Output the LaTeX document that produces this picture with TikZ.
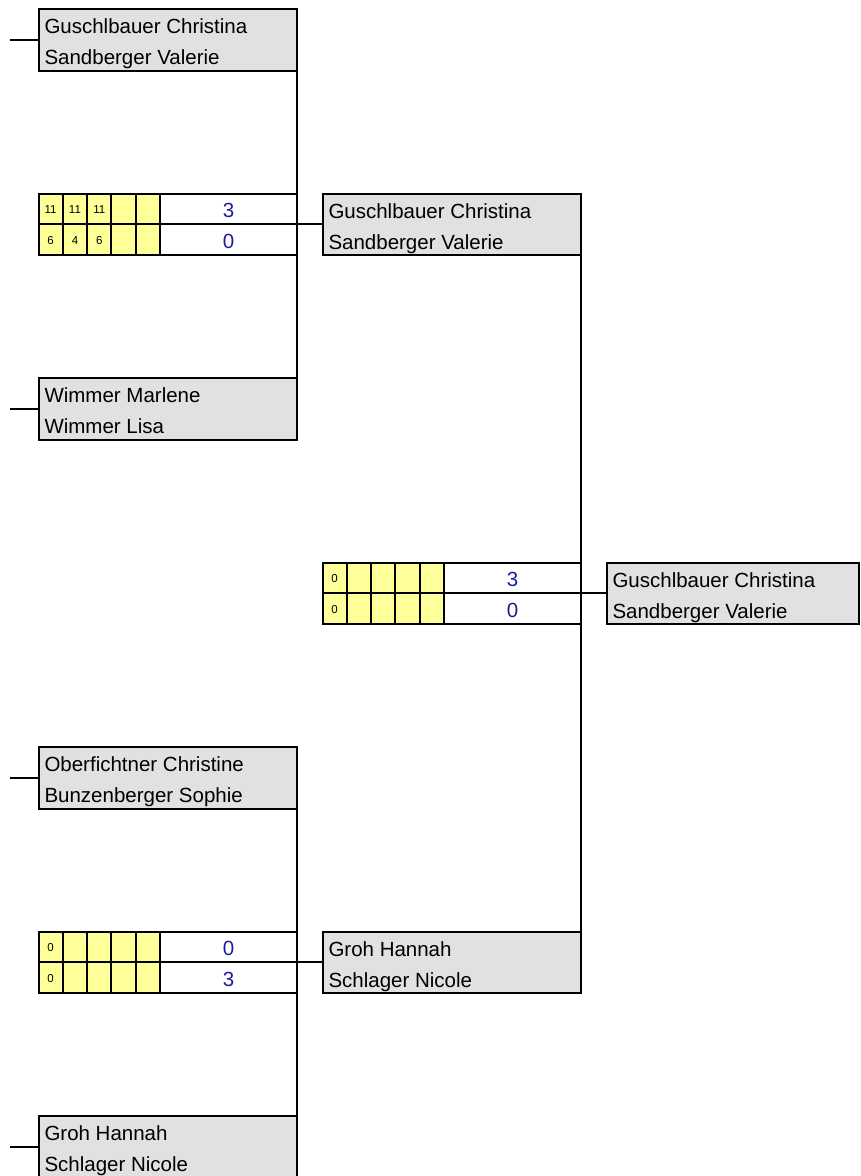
\documentclass[tikz,border=0pt]{standalone}
\usepackage{fontspec}
\setmainfont{Liberation Sans}
\definecolor{boxgray}{HTML}{E1E1E1}
\definecolor{setyellow}{HTML}{FFFF99}
\definecolor{scoreblue}{HTML}{1C1CA0}
\tikzset{
  namebox/.style={draw, fill=boxgray, anchor=north west, minimum width=258.5pt, minimum height=61.5pt, inner sep=0pt, outer sep=0pt},
  scorebox/.style={draw, fill=white, anchor=north west, minimum width=258.5pt, minimum height=61.5pt, inner sep=0pt, outer sep=0pt},
  playername/.style={anchor=base west, inner sep=0pt, font=\fontsize{20.5}{24}\selectfont},
  setpoints/.style={anchor=base, inner sep=0pt, font=\fontsize{11.5}{13}\selectfont},
  setscore/.style={anchor=base, inner sep=0pt, text=scoreblue, font=\fontsize{20.5}{24}\selectfont}
}
\begin{document}
\begin{tikzpicture}[x=1pt,y=-1pt,line width=2pt]
\useasboundingbox (0,0) rectangle (861,1176);
% \draw [help lines] (0,0) grid [step=30.75] (861,1176);

% first round
\node [namebox] (a1) at (38.5,9) {};
\node [playername] (a1n1) at (43.5,33.5) {Guschlbauer Christina};
\node [playername] (a1n2) at (43.5,64.5) {Sandberger Valerie};
\node [namebox] (a2) at (38.5,378) {};
\node [playername] (a2n1) at (43.5,402.5) {Wimmer Marlene};
\node [playername] (a2n2) at (43.5,433.5) {Wimmer Lisa};
\node [namebox] (a3) at (38.5,747) {};
\node [playername] (a3n1) at (43.5,771.5) {Oberfichtner Christine};
\node [playername] (a3n2) at (43.5,802.5) {Bunzenberger Sophie};
\node [namebox] (a4) at (38.5,1116) {};
\node [playername] (a4n1) at (43.5,1140.5) {Groh Hannah};
\node [playername] (a4n2) at (43.5,1171.5) {Schlager Nicole};

\foreach \y [count=\i] in {39.75,408.75,777.75,1146.75}
{
       \coordinate (in\i) at (10,\y);
       \draw (in\i) -- (a\i.west);
}

% score boxes
\node [scorebox] (s1) at (38.5,193.5) {};
\node [scorebox] (s2) at (322.5,562.5) {};
\node [scorebox] (s3) at (38.5,931.5) {};
\foreach \x/\y in {38.5/193.5,322.5/562.5,38.5/931.5}
{
       \foreach \i in {0,...,4}
       {
              \draw [fill=setyellow] (\x+\i*24.3,\y) rectangle ++(24.3,30.75);
              \draw [fill=setyellow] (\x+\i*24.3,\y+30.75) rectangle ++(24.3,30.75);
       }
       \draw (\x+121.5,\y+30.75) -- (\x+258.5,\y+30.75);
}

\foreach \p [count=\i from 0] in {11,11,11}
       \node [setpoints] at (50.65+\i*24.3,213) {\p};
\foreach \p [count=\i from 0] in {6,4,6}
       \node [setpoints] at (50.65+\i*24.3,244) {\p};
\node [setscore] at (228.5,217) {3};
\node [setscore] at (228.5,248) {0};

\node [setpoints] at (334.65,582) {0};
\node [setpoints] at (334.65,613) {0};
\node [setscore] at (512.5,586) {3};
\node [setscore] at (512.5,617) {0};

\node [setpoints] at (50.65,951) {0};
\node [setpoints] at (50.65,982) {0};
\node [setscore] at (228.5,955) {0};
\node [setscore] at (228.5,986) {3};

% second round and winner
\node [namebox] (b1) at (322.5,193.5) {};
\node [playername] (b1n1) at (327.5,218) {Guschlbauer Christina};
\node [playername] (b1n2) at (327.5,249) {Sandberger Valerie};
\node [namebox] (b2) at (322.5,931.5) {};
\node [playername] (b2n1) at (327.5,956) {Groh Hannah};
\node [playername] (b2n2) at (327.5,987) {Schlager Nicole};
\node [namebox, minimum width=252.5pt] (c1) at (606.5,562.5) {};
\node [playername] (c1n1) at (611.5,587) {Guschlbauer Christina};
\node [playername] (c1n2) at (611.5,618) {Sandberger Valerie};

\draw (a1.south east) -- (a2.north east);
\draw (a3.south east) -- (a4.north east);
\draw (b1.south east) -- (b2.north east);
\draw (s1.east) -- (b1.west);
\draw (s3.east) -- (b2.west);
\draw (s2.east) -- (c1.west);

\end{tikzpicture}
\end{document}
